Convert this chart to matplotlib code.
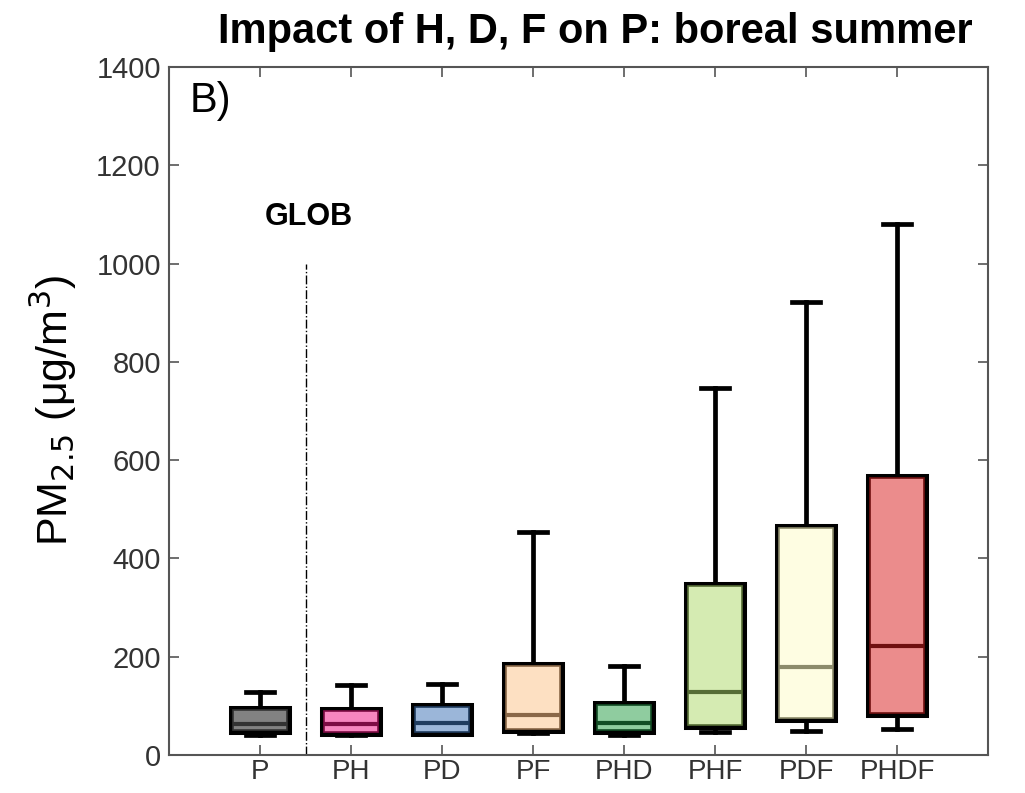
"""Box plot of PM2.5 under H, D, F combinations (boreal summer)."""

import matplotlib

matplotlib.use("Agg")
import matplotlib.pyplot as plt

plt.rcParams["font.family"] = ["Liberation Sans", "DejaVu Sans"]

# data (ug/m3)
labels = ["P", "PH", "PD", "PF", "PHD", "PHF", "PDF", "PHDF"]
whislo = [41, 41, 42, 45, 41, 47, 49, 53]
q1 = [50, 47, 46, 53, 50, 61, 75, 85]
med = [63, 62, 65, 81, 65, 128, 179, 222]
q3 = [92, 90, 97, 181, 102, 344, 462, 564]
whishi = [128, 142, 145, 454, 181, 747, 922, 1081]

fill_colors = ["#828282", "#f786bf", "#9bb6d9", "#fde0c2", "#8fcc9f", "#d5ebb2", "#fefde2", "#eb8c8c"]
dark_colors = ["#333333", "#7d0c44", "#1f3c5f", "#8a6848", "#124d25", "#566d36", "#8c8b6b", "#701010"]

fig = plt.figure(figsize=(10.25, 7.93), dpi=100)
ax = fig.add_axes([0.165, 0.048, 0.799, 0.8675])

positions = list(range(1, len(labels) + 1))
stats = []
for i, name in enumerate(labels):
    stats.append({
        "label": name,
        "whislo": whislo[i],
        "q1": q1[i],
        "med": med[i],
        "q3": q3[i],
        "whishi": whishi[i],
        "fliers": [],
    })

# black outline, whiskers and caps
ax.bxp(
    stats,
    positions=positions,
    widths=0.6,
    patch_artist=True,
    showfliers=False,
    boxprops=dict(facecolor="white", edgecolor="black", linewidth=6.5),
    whiskerprops=dict(color="black", linewidth=3.4),
    capprops=dict(color="black", linewidth=3.4),
    capwidths=0.3,
    medianprops=dict(linewidth=0),
    manage_ticks=False,
)

# coloured fill with darker inner edge and median
for i, s in enumerate(stats):
    ax.bxp(
        [s],
        positions=[positions[i]],
        widths=0.6,
        patch_artist=True,
        showfliers=False,
        showcaps=False,
        boxprops=dict(facecolor=fill_colors[i], edgecolor=dark_colors[i], linewidth=1.2),
        whiskerprops=dict(linewidth=0),
        medianprops=dict(color=dark_colors[i], linewidth=3.0, solid_capstyle="butt"),
        manage_ticks=False,
    )

# separator between global P and the compound cases
ax.plot([1.5, 1.5], [0, 1000], color="black", linestyle="-.", linewidth=1.0)
ax.text(1.53, 1095, "GLOB", fontsize=22, fontweight="bold", ha="center", va="center")
ax.text(0.22, 1330, "B)", fontsize=30, ha="left", va="center")

ax.set_xlim(0, 9)
ax.set_ylim(0, 1400)
ax.set_xticks(positions)
ax.set_xticklabels(labels)
ax.set_yticks(range(0, 1401, 200))
ax.tick_params(direction="in", length=7, width=1.2, top=True, right=True,
               labelsize=21, labelcolor="#333333", color="#555555", pad=6)
ax.tick_params(axis="x", labelsize=20, pad=3)
for spine in ax.spines.values():
    spine.set_color("#555555")
    spine.set_linewidth(1.5)

ax.set_ylabel(r"PM$_{2.5}$ (μg/m$^3$)", fontsize=31, labelpad=12)
ax.set_title("Impact of H, D, F on P: boreal summer", fontsize=30, fontweight="bold", pad=17, x=0.52)

fig.savefig("out.png", dpi=100)
